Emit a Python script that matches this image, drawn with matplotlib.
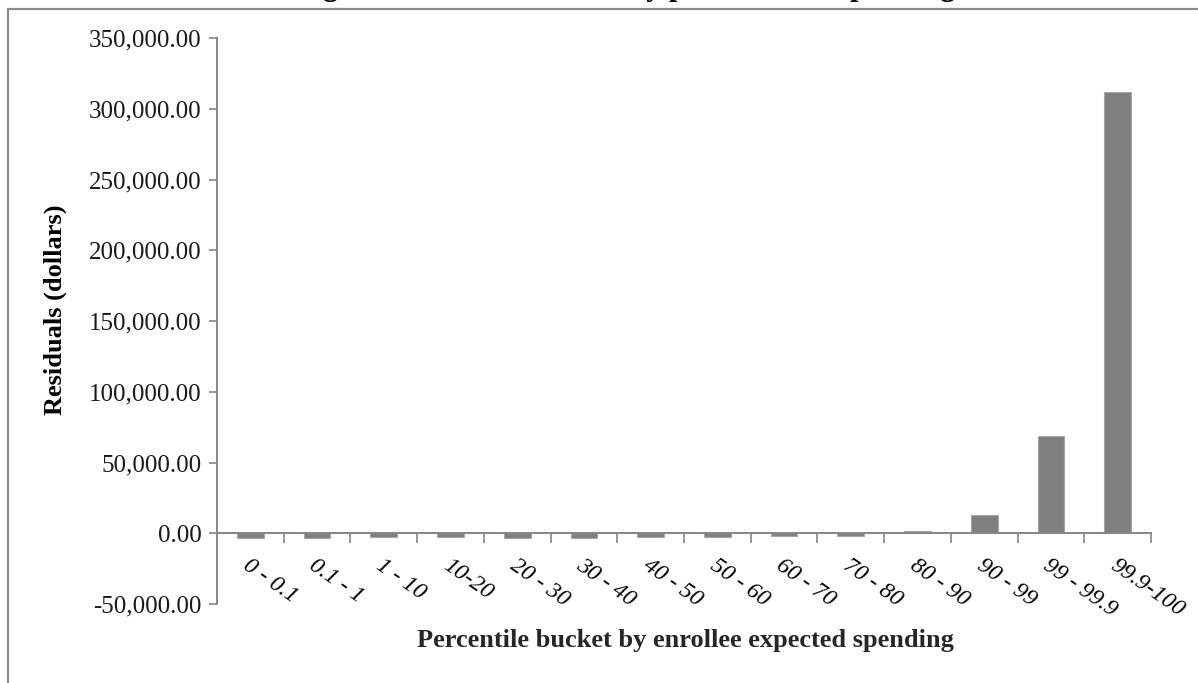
import matplotlib
matplotlib.use("Agg")
import matplotlib.pyplot as plt
from matplotlib.patches import Rectangle
from matplotlib.ticker import FuncFormatter

# percentile buckets and mean residual (dollars)
buckets = ["0 - 0.1", "0.1 - 1", "1 - 10", "10-20", "20 - 30", "30 - 40", "40 - 50",
           "50 - 60", "60 - 70", "70 - 80", "80 - 90", "90 - 99", "99 - 99.9", "99.9-100"]
residuals = [-3600, -3300, -2400, -2600, -3100, -3100, -2600,
             -2800, -2200, -2000, 1800, 12700, 68600, 311900]

y_ticks = [-50000, 0, 50000, 100000, 150000, 200000, 250000, 300000, 350000]

title = "Figure 4: Mean residuals by percentile of spending"
x_title = "Percentile bucket by enrollee expected spending"
y_title = "Residuals (dollars)"

plt.rcParams['font.family'] = ['Liberation Serif', 'DejaVu Serif']
axis_grey = "#868686"

fig = plt.figure(figsize=(11.98, 6.83), dpi=100)

# chart frame (runs off the right and bottom of the image)
fig.patches.append(Rectangle((8 / 1198, -0.2), 1.2, 1.2 - 9 / 683,
                             transform=fig.transFigure, fill=False,
                             edgecolor="#8c8c8c", linewidth=1.6))

# title is cut off by the top edge, only the descenders show
fig.text(0.522, 1.0 + 5 / 683, title, ha="center", va="baseline",
         fontsize=22, fontweight="bold", color="black")

ax = fig.add_axes([217 / 1198, 1 - 604 / 683, (1151 - 217) / 1198, (604 - 38) / 683])

x = list(range(len(buckets)))
ax.bar(x, residuals, width=0.4, color="#808080", edgecolor="#a6a6a6", linewidth=0.8, zorder=2)

ax.set_xlim(-0.5, len(buckets) - 0.5)
ax.set_ylim(-50000, 350000)
ax.set_yticks(y_ticks)
ax.yaxis.set_major_formatter(FuncFormatter(lambda v, p: f"{v:,.2f}"))
ax.tick_params(axis="y", direction="out", length=6, width=1.2, color=axis_grey,
               labelsize=18, pad=5, labelcolor="#1a1a1a")

for s in ["top", "right"]:
    ax.spines[s].set_visible(False)
ax.spines["left"].set_color(axis_grey)
ax.spines["left"].set_linewidth(1.4)
ax.spines["bottom"].set_position(("data", 0))
ax.spines["bottom"].set_color(axis_grey)
ax.spines["bottom"].set_linewidth(1.4)

# ticks between categories, labels placed by hand below the zero line
ax.set_xticks([i + 0.5 for i in x])
ax.set_xticklabels([])
ax.tick_params(axis="x", direction="out", length=7, width=1.2, color=axis_grey)

for i, lab in zip(x, buckets):
    ax.annotate(lab, xy=(i, 0), xycoords="data", xytext=(-4, -22), textcoords="offset points",
                rotation=-35, rotation_mode="anchor", ha="left", va="center",
                fontsize=17, style="italic", color="black")

fig.text(685 / 1198, 1 - 640 / 683, x_title, ha="center", va="center",
         fontsize=19, fontweight="bold", color="#262626")
fig.text(55 / 1198, 1 - 310 / 683, y_title, ha="center", va="center", rotation=90,
         fontsize=19, fontweight="bold", color="black")

fig.savefig("out.png", dpi=100)
